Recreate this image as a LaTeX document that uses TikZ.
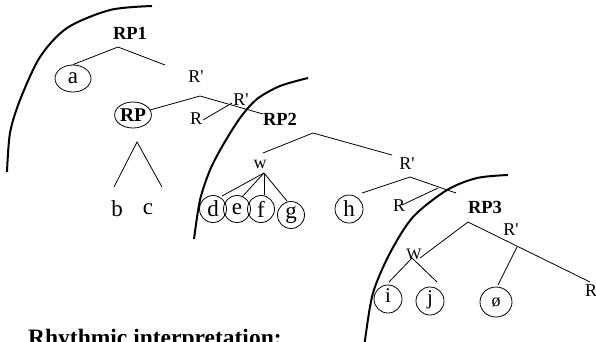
\documentclass[tikz,border=0pt]{standalone}
\usepackage{fontspec}
\setmainfont{Liberation Serif}
\usetikzlibrary{shapes.geometric}
\begin{document}
\begin{tikzpicture}[x=1pt,y=1pt,
  lbl/.style={inner sep=0pt, font=\fontsize{18}{18}\selectfont},
  blbl/.style={inner sep=0pt, font=\fontsize{18.5}{18}\selectfont\bfseries},
  big/.style={inner sep=0pt, font=\fontsize{23}{23}\selectfont},
  leaf/.style={draw, ellipse, inner sep=0pt, minimum width=27pt, minimum height=27pt, line width=0.8pt, font=\fontsize{23}{23}\selectfont},
  highleaf/.style={leaf, minimum width=28pt, minimum height=28pt, font=\fontsize{21}{21}\selectfont, text height=12pt, text depth=6pt},
  br/.style={line width=0.8pt},
  bigarc/.style={line width=2pt}]
\useasboundingbox (0,0) rectangle (596,-341);
\clip (0,0) rectangle (596,-341);
% arcs
\draw[bigarc] plot[smooth] coordinates {(152,-6) (110,-10) (67,-28) (40,-57) (20,-100) (10,-133) (7,-172)};
\draw[bigarc] plot[smooth] coordinates {(308,-78) (280,-86) (257,-99) (240,-118) (223,-145) (210,-170) (200,-200) (194,-239)};
\draw[bigarc] plot[smooth] coordinates {(508,-175) (477,-178) (447,-190) (413,-217) (390,-253) (373,-293) (365,-340) (364,-350)};
% labels
\node[blbl] (rp1) at (130,-33) {RP1};
\node[leaf, minimum width=36pt] (a) at (73,-78.5) {a};
\node[lbl] (r1) at (196,-77) {R\textquotesingle};
\node[leaf, minimum width=36pt, minimum height=26pt, font=\fontsize{19.5}{20}\selectfont\bfseries] (rp) at (133,-115) {RP};
\node[lbl] (r2) at (241,-100) {R\textquotesingle};
\node[lbl] (rr1) at (196,-119) {R};
\node[blbl] (rp2) at (280,-119) {RP2};
\node[big] (b) at (117,-209) {b};
\node[big] (c) at (148,-209) {c};
\node[lbl] (w) at (260,-164) {w};
\node[leaf] (d) at (213,-209) {d};
\node[leaf] (e) at (237,-209) {e};
\node[leaf] (f) at (261,-209) {f};
\node[leaf] (g) at (291,-215) {g};
\node[leaf, minimum width=28pt, minimum height=28pt] (h) at (349,-209) {h};
\node[lbl] (r3) at (407,-164) {R\textquotesingle};
\node[lbl] (rr2) at (399,-206) {R};
\node[blbl] (rp3) at (485,-207) {RP3};
\node[lbl] (r4) at (511,-230) {R\textquotesingle};
\node[lbl, font=\fontsize{16}{16}\selectfont] (W) at (414,-254) {W};
\node[highleaf] (i) at (388,-299) {i};
\node[highleaf] (j) at (430,-301) {j};
\node[leaf, minimum width=32pt, minimum height=30pt, font=\fontsize{18}{18}\selectfont] (o) at (496,-302) {ø};
\node[lbl] (rr3) at (591,-291) {R};
\node[anchor=base west, inner sep=0pt, font=\fontsize{23.5}{24}\selectfont\bfseries] (ri) at (28,-345) {Rhythmic interpretation:};
% coordinates
\coordinate (ap1) at (118,-47);
\coordinate (ap1r) at (165,-65);
\coordinate (ap2) at (200,-96);
\coordinate (ap2l) at (150,-110);
\coordinate (ap2r) at (263,-114);
\coordinate (rr1e) at (203,-120);
\coordinate (r2w) at (232,-103);
\coordinate (tri) at (137,-142);
\coordinate (tril) at (114,-187);
\coordinate (trir) at (162,-187);
\coordinate (ap3) at (313,-133);
\coordinate (ap3l) at (263,-153);
\coordinate (ap3r) at (392,-155);
\coordinate (wap) at (264,-173);
\coordinate (wd) at (222,-196);
\coordinate (we) at (242,-197);
\coordinate (wf) at (264,-195);
\coordinate (wg) at (287,-201);
\coordinate (ap4) at (410,-177);
\coordinate (ap4l) at (362,-193);
\coordinate (ap4r) at (456,-193);
\coordinate (rr2e) at (402,-205);
\coordinate (rr2t) at (438,-188);
\coordinate (ap5) at (468,-222);
\coordinate (ap5l) at (420,-258);
\coordinate (ap5r) at (590,-282);
\coordinate (r4b) at (517,-247);
\coordinate (ot) at (498,-285);
\coordinate (Wap) at (412,-258);
\coordinate (Wi) at (389,-282);
\coordinate (Wj) at (437,-282);
% branches
\draw[br] (a.north) -- (ap1) -- (ap1r);
\draw[br] (ap2l) -- (ap2) -- (ap2r);
\draw[br] (rr1e) -- (r2w);
\draw[br] (tril) -- (tri) -- (trir);
\draw[br] (ap3l) -- (ap3) -- (ap3r);
\draw[br] (wap) -- (wd);
\draw[br] (wap) -- (we);
\draw[br] (wap) -- (wf);
\draw[br] (wap) -- (wg);
\draw[br] (ap4l) -- (ap4) -- (ap4r);
\draw[br] (rr2e) -- (rr2t);
\draw[br] (ap5l) -- (ap5) -- (ap5r);
\draw[br] (r4b) -- (ot);
\draw[br] (Wi) -- (Wap) -- (Wj);
\end{tikzpicture}
\end{document}
